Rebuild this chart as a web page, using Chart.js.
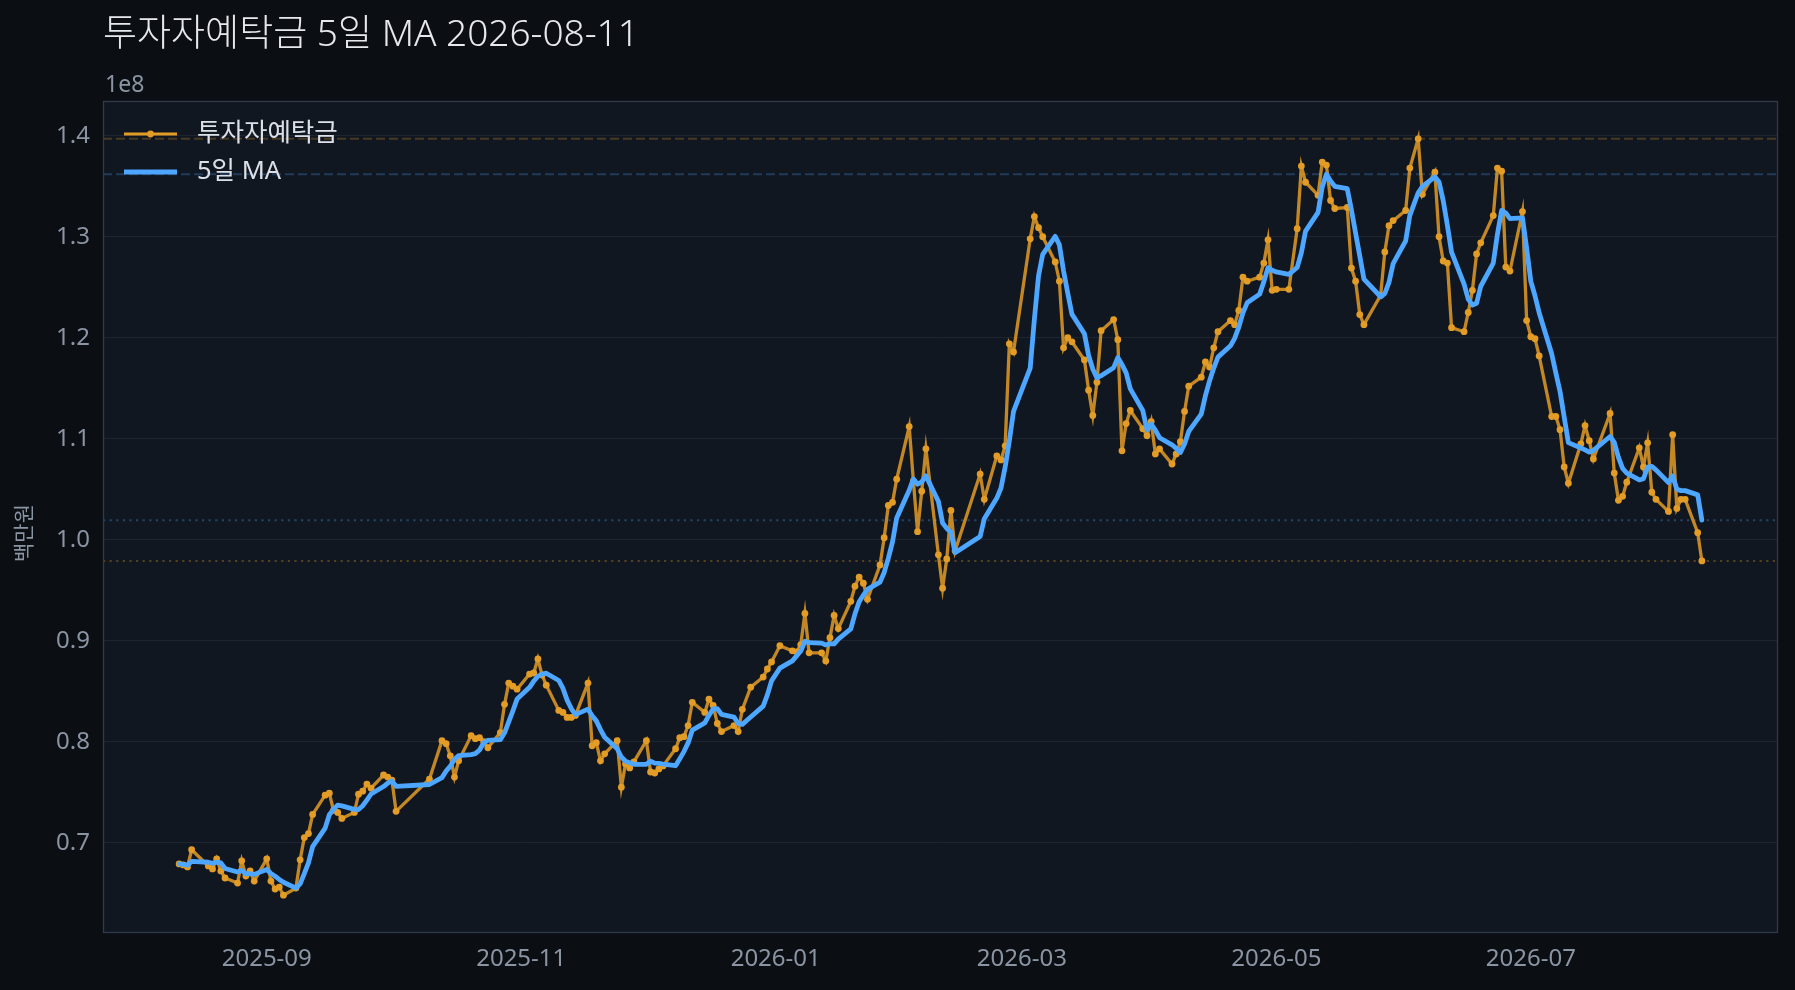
<!DOCTYPE html>
<html lang="ko">
<head>
<meta charset="utf-8">
<title>투자자예탁금 5일 MA</title>
<script src="https://cdn.jsdelivr.net/npm/chart.js@4.4.1/dist/chart.umd.min.js"></script>
<style>
    html, body { margin: 0; padding: 0; background: #0b0e13; }
    #wrap { position: relative; width: 1795px; height: 990px; }
</style>
</head>
<body>
<div id="wrap"><canvas id="chart" width="1795" height="990"></canvas></div>
<script>
// 거래일: 시작~끝 평일 중 휴장일 제외
const startDate = '2025-08-11';
const endDate = '2026-08-11';
const holidays = [
    '2025-08-15', '2025-10-03', '2025-10-06', '2025-10-07', '2025-10-08', '2025-10-09',
    '2025-12-25', '2026-01-01', '2026-02-16', '2026-02-17', '2026-02-18', '2026-03-02',
    '2026-05-05', '2026-05-25', '2026-06-03', '2026-07-17'
];

// 투자자예탁금 (단위 1e8 백만원), 거래일 순서
const deposits = [
    // 2025-08
    0.679, 0.678, 0.676, 0.693, 0.677, 0.674, 0.684, 0.672, 0.665, 0.660, 0.682, 0.667, 0.672, 0.662,
    // 2025-09
    0.684, 0.662, 0.654, 0.656, 0.648, 0.655, 0.683, 0.705, 0.709, 0.728, 0.747, 0.749, 0.732, 0.730,
    0.724, 0.730, 0.748, 0.751, 0.758, 0.754, 0.767, 0.765,
    // 2025-10
    0.762, 0.731, 0.763, 0.801, 0.798, 0.786, 0.765, 0.781, 0.806, 0.803, 0.804, 0.800, 0.794, 0.809,
    0.837, 0.858, 0.855, 0.852,
    // 2025-11
    0.867, 0.868, 0.882, 0.866, 0.856, 0.831, 0.829, 0.824, 0.824, 0.826, 0.858, 0.796, 0.799, 0.781,
    0.788, 0.801, 0.755, 0.778, 0.774, 0.780,
    // 2025-12
    0.801, 0.770, 0.769, 0.773, 0.776, 0.793, 0.804, 0.805, 0.816, 0.839, 0.829, 0.842, 0.836, 0.818,
    0.810, 0.816, 0.810, 0.832, 0.854, 0.864, 0.872, 0.879,
    // 2026-01
    0.895, 0.890, 0.889, 0.896, 0.927, 0.888, 0.888, 0.880, 0.903, 0.925, 0.912, 0.939, 0.954, 0.963,
    0.957, 0.941, 0.975, 1.002, 1.034, 1.037, 1.060,
    // 2026-02
    1.112, 1.058, 1.008, 1.048, 1.090, 0.985, 0.952, 0.981, 1.029, 0.989, 1.065, 1.040, 1.083, 1.079,
    1.093, 1.194, 1.186,
    // 2026-03
    1.298, 1.320, 1.309, 1.300, 1.275, 1.256, 1.190, 1.200, 1.196, 1.178, 1.148, 1.123, 1.156, 1.207,
    1.218, 1.198, 1.088, 1.115, 1.128, 1.110, 1.103,
    // 2026-04
    1.117, 1.085, 1.090, 1.075, 1.085, 1.097, 1.127, 1.152, 1.161, 1.176, 1.171, 1.190, 1.206, 1.217,
    1.213, 1.227, 1.260, 1.256, 1.260, 1.274, 1.297, 1.247,
    // 2026-05
    1.248, 1.248, 1.308, 1.370, 1.354, 1.341, 1.374, 1.371, 1.336, 1.328, 1.329, 1.269, 1.256, 1.223,
    1.213, 1.242, 1.285, 1.311, 1.316,
    // 2026-06
    1.326, 1.368, 1.397, 1.342, 1.364, 1.300, 1.276, 1.274, 1.210, 1.206, 1.225, 1.247, 1.283, 1.294,
    1.321, 1.368, 1.365, 1.270, 1.266, 1.325, 1.217,
    // 2026-07
    1.201, 1.199, 1.182, 1.122, 1.122, 1.109, 1.072, 1.056, 1.095, 1.113, 1.098, 1.080, 1.125, 1.066,
    1.039, 1.043, 1.057, 1.091, 1.072, 1.096, 1.047, 1.040,
    // 2026-08
    1.028, 1.104, 1.031, 1.040, 1.040, 1.007, 0.979
];

const yTicks = [0.7, 0.8, 0.9, 1.0, 1.1, 1.2, 1.3, 1.4];
const xTickLabels = ['2025-09', '2025-11', '2026-01', '2026-03', '2026-05', '2026-07'];
const MA_WINDOW = 5;

const COLOR_RAW = '#e39c26';
const COLOR_MA = '#4da6ff';
const COLOR_TEXT = '#dde1e7';
const COLOR_TICK = '#8b94a3';

const DAY_MS = 86400000;
const dayNum = s => (Date.parse(s + 'T00:00:00Z') - Date.parse(startDate + 'T00:00:00Z')) / DAY_MS;

function tradingDays(start, end, skip) {
    const out = [];
    const last = Date.parse(end + 'T00:00:00Z');
    for (let t = Date.parse(start + 'T00:00:00Z'); t <= last; t += DAY_MS) {
        const d = new Date(t);
        const wd = d.getUTCDay();
        const iso = d.toISOString().slice(0, 10);
        if (wd === 0 || wd === 6 || skip.includes(iso)) continue;
        out.push(iso);
    }
    return out;
}

function rollingMean(values, win) {
    return values.map((_, i) => {
        const part = values.slice(Math.max(0, i - win + 1), i + 1);
        return part.reduce((a, b) => a + b, 0) / part.length;
    });
}

const dates = tradingDays(startDate, endDate, holidays);
if (dates.length !== deposits.length) {
    console.warn('length mismatch', dates.length, deposits.length);
}
const ma = rollingMean(deposits, MA_WINDOW);

const rawPoints = deposits.map((v, i) => ({ x: dayNum(dates[i]), y: v }));
const maPoints = ma.map((v, i) => ({ x: dayNum(dates[i]), y: v }));

const xFirst = rawPoints[0].x;
const xLast = rawPoints[rawPoints.length - 1].x;
const xPad = (xLast - xFirst) * 0.05;
const yMin = Math.min(...deposits);
const yMax = Math.max(...deposits);
const yPad = (yMax - yMin) * 0.05;

// 최고/최근 수준 기준선
const refLines = [
    { value: Math.max(...deposits), color: 'rgba(227,156,38,0.26)', dash: [9, 4] },
    { value: Math.max(...ma), color: 'rgba(77,166,255,0.26)', dash: [9, 4] },
    { value: ma[ma.length - 1], color: 'rgba(77,166,255,0.32)', dash: [2.2, 4.4] },
    { value: deposits[deposits.length - 1], color: 'rgba(227,156,38,0.32)', dash: [2.2, 4.4] }
];

const FONT = "'Noto Sans', 'Noto Sans CJK KR', sans-serif";
Chart.defaults.font.family = FONT;

const decorPlugin = {
    id: 'decor',
    beforeDraw(chart) {
        const { ctx, chartArea: a } = chart;
        ctx.save();
        ctx.fillStyle = '#0b0e13';
        ctx.fillRect(0, 0, chart.width, chart.height);
        ctx.fillStyle = '#111721';
        ctx.fillRect(a.left, a.top, a.right - a.left, a.bottom - a.top);
        ctx.restore();
    },
    beforeDatasetsDraw(chart) {
        const { ctx, chartArea: a, scales } = chart;
        ctx.save();
        ctx.lineWidth = 2;
        refLines.forEach(r => {
            const y = scales.y.getPixelForValue(r.value);
            ctx.strokeStyle = r.color;
            ctx.setLineDash(r.dash);
            ctx.beginPath();
            ctx.moveTo(a.left, y);
            ctx.lineTo(a.right, y);
            ctx.stroke();
        });
        ctx.restore();
    },
    afterDraw(chart) {
        const { ctx, chartArea: a } = chart;
        ctx.save();
        // plot frame
        ctx.strokeStyle = '#303a4a';
        ctx.lineWidth = 1.3;
        ctx.strokeRect(a.left + 0.5, a.top + 0.5, a.right - a.left - 1, a.bottom - a.top - 1);

        // title
        ctx.fillStyle = '#e6e8eb';
        ctx.textBaseline = 'middle';
        ctx.font = `300 37px ${FONT}`;
        ctx.fillText('투자자예탁금 5일 MA 2026-08-11', a.left, 35);

        // offset text
        ctx.fillStyle = COLOR_TICK;
        ctx.font = `23px ${FONT}`;
        ctx.fillText('1e8', a.left + 2, 85);

        // y label
        ctx.save();
        ctx.translate(25, (a.top + a.bottom) / 2 + 16);
        ctx.rotate(-Math.PI / 2);
        ctx.textAlign = 'center';
        ctx.font = `21px ${FONT}`;
        ctx.fillText('백만원', 0, 0);
        ctx.restore();

        // legend
        const lx = a.left + 21, lw = 53, tx = a.left + 94;
        const rows = [
            { y: a.top + 33, color: COLOR_RAW, width: 3.2, dot: true, label: '투자자예탁금' },
            { y: a.top + 71, color: COLOR_MA, width: 4.8, dot: false, label: '5일 MA' }
        ];
        rows.forEach(r => {
            ctx.strokeStyle = r.color;
            ctx.lineWidth = r.width;
            ctx.beginPath();
            ctx.moveTo(lx, r.y);
            ctx.lineTo(lx + lw, r.y);
            ctx.stroke();
            if (r.dot) {
                ctx.fillStyle = r.color;
                ctx.beginPath();
                ctx.arc(lx + lw / 2, r.y, 3.4, 0, Math.PI * 2);
                ctx.fill();
            }
            ctx.fillStyle = COLOR_TEXT;
            ctx.font = `25.5px ${FONT}`;
            ctx.textBaseline = 'middle';
            ctx.fillText(r.label, tx, r.y);
        });
        ctx.restore();
    }
};

new Chart(document.getElementById('chart'), {
    type: 'line',
    data: {
        datasets: [
            {
                label: '투자자예탁금',
                data: rawPoints,
                borderColor: 'rgba(227,156,38,0.85)',
                borderWidth: 3.3,
                pointRadius: 3.4,
                pointBackgroundColor: COLOR_RAW,
                pointBorderWidth: 0,
                tension: 0,
                order: 1
            },
            {
                label: '5일 MA',
                data: maPoints,
                borderColor: COLOR_MA,
                borderWidth: 4.8,
                borderJoinStyle: 'round',
                borderCapStyle: 'round',
                pointRadius: 0,
                tension: 0,
                order: 0
            }
        ]
    },
    options: {
        responsive: false,
        animation: false,
        devicePixelRatio: 1,
        layout: { padding: { top: 101, right: 17, left: 0, bottom: 0 } },
        plugins: {
            legend: { display: false },
            tooltip: { enabled: false }
        },
        scales: {
            x: {
                type: 'linear',
                min: xFirst - xPad,
                max: xLast + xPad,
                afterFit: s => { s.height = 57; },
                afterBuildTicks: s => {
                    s.ticks = xTickLabels.map(m => ({ value: dayNum(m + '-01') }));
                },
                ticks: {
                    color: COLOR_TICK,
                    font: { size: 24 },
                    padding: 12,
                    maxRotation: 0,
                    autoSkip: false,
                    callback: v => xTickLabels.find(m => dayNum(m + '-01') === v) || ''
                },
                grid: { display: false, drawTicks: false },
                border: { display: false }
            },
            y: {
                min: yMin - yPad,
                max: yMax + yPad,
                afterFit: s => { s.width = 103; },
                afterBuildTicks: s => {
                    s.ticks = yTicks.map(v => ({ value: v }));
                },
                ticks: {
                    color: COLOR_TICK,
                    font: { size: 24 },
                    padding: 13,
                    callback: v => v.toFixed(1)
                },
                grid: { color: '#1e2531', lineWidth: 1, drawTicks: false },
                border: { display: false }
            }
        }
    },
    plugins: [decorPlugin]
});
</script>
</body>
</html>
